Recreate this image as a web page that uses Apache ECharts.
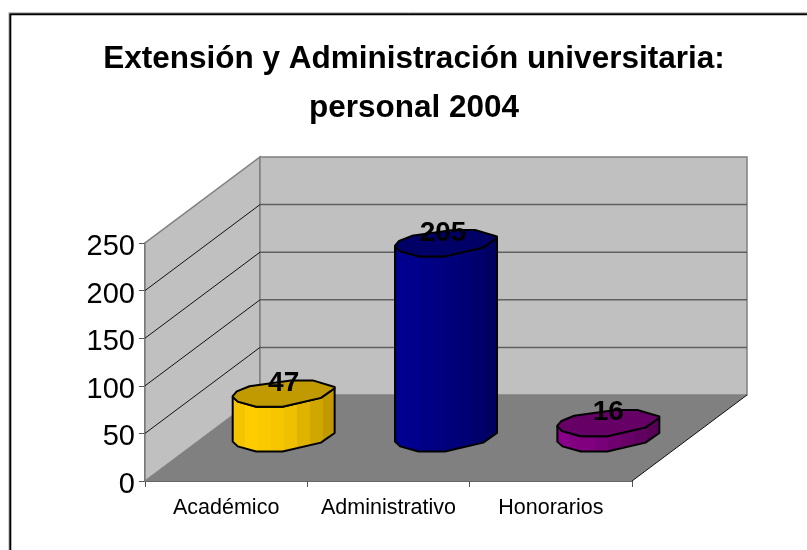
<!DOCTYPE html>
<html><head><meta charset="utf-8">
<style>html,body{margin:0;padding:0;background:#fff}#c{width:807px;height:550px}</style>
<script src="https://cdn.jsdelivr.net/npm/echarts@6/dist/echarts.min.js"></script>
</head><body><div id="c"></div>
<script>
const categories = ['Académico', 'Administrativo', 'Honorarios'];
const values = [47, 205, 16];
const yTicks = [0, 50, 100, 150, 200, 250];
const topColors = ['#c09a00', '#000066', '#660066'];
const sideShades = [
  ['#f5c400','#ffcc00','#fcca00','#f7c600','#efc000','#e0b300','#d0a600','#c09a00'],
  ['#000090','#00008c','#000086','#000080','#00007a','#000074','#00006c','#000060'],
  ['#8a008a','#800080','#800080','#780078','#700070','#680068','#600060','#580058']
];
const labelShift = [0, -3, 0];
const FONT = '"Liberation Sans", Arial, sans-serif';
const DX = 115, DY = -86;   // oblique depth of the 3D box
// faceted outline of the cylinder's cap, in units of its radii
const capBack = [[-1,.2],[-.92,-.13],[-.67,-.5],[.14,-.92],[.57,-.92],[1,-.45]];
const capFront = [[1,-.36],[.73,.33],[-.02,.97],[-.54,.97],[-.9,.6],[-1,.26]];

function grid3D(params, api) {
  const bs = params.coordSys;
  const x0 = bs.x, x1 = bs.x + bs.width;
  const yTop = api.coord([0, 250])[1], yBase = api.coord([0, 0])[1];
  const kids = [];
  kids.push({type:'polygon', shape:{points:[[x0,yBase],[x0+DX,yBase+DY],[x0+DX,yTop+DY],[x0,yTop]]},
    style:{fill:'#c0c0c0', stroke:'#808080', lineWidth:1.5}});
  kids.push({type:'rect', shape:{x:x0+DX,y:yTop+DY,width:x1-x0,height:yBase-yTop},
    style:{fill:'#c0c0c0', stroke:'#808080', lineWidth:1.5}});
  kids.push({type:'polygon', shape:{points:[[x0,yBase],[x0+DX,yBase+DY],[x1+DX,yBase+DY],[x1,yBase]]},
    style:{fill:'#808080', stroke:'none'}});
  kids.push({type:'line', shape:{x1:x1,y1:yBase,x2:x1+DX,y2:yBase+DY}, style:{stroke:'#111',lineWidth:1}});
  yTicks.forEach(t => {
    if (t === 0 || t === 250) return;
    const y = api.coord([0, t])[1];
    kids.push({type:'line', shape:{x1:x0,y1:y,x2:x0+DX,y2:y+DY}, style:{stroke:'#111',lineWidth:1}});
    kids.push({type:'line', shape:{x1:x0+DX,y1:y+DY,x2:x1+DX,y2:y+DY}, style:{stroke:'#606060',lineWidth:1.5}});
  });
  return {type:'group', silent:true, children:kids};
}

function stripes(shades) {
  const stops = [];
  shades.forEach((c, k) => {
    stops.push({offset:k/shades.length,color:c});
    stops.push({offset:(k+1)/shades.length,color:c});
  });
  return {type:'linear',x:0,y:0,x2:1,y2:0,colorStops:stops};
}

function cylinder(params, api) {
  const i = params.dataIndex;
  const base = api.coord([i, 0]), top = api.coord([i, api.value(1)]);
  const band = api.size([1, 0])[0];
  const cx = base[0] + DX * 0.5, off = DY * 0.5;
  const rx = band * 0.314, ry = band * 0.086;
  const pt = (p, y) => [cx + rx * p[0], y + off + ry * p[1]];
  const yT = top[1], yB = base[1];
  const body = capFront.map(p => pt(p, yB)).concat(capFront.slice().reverse().map(p => pt(p, yT)));
  const cap = capBack.concat(capFront).map(p => pt(p, yT));
  return {type:'group', children:[
    {type:'polygon', shape:{points:body}, style:{fill:stripes(sideShades[i]), stroke:'#000', lineWidth:2, lineJoin:'round'}},
    {type:'polygon', shape:{points:cap}, style:{fill:topColors[i], stroke:'#000', lineWidth:2, lineJoin:'round'}},
    {type:'text', style:{text:String(api.value(1)), x:cx+labelShift[i], y:yT+off-10, align:'center', verticalAlign:'middle',
      font:'bold 28px '+FONT, fill:'#000'}, z2:10}
  ]};
}

const chart = echarts.init(document.getElementById('c'), null, {renderer:'canvas'});
chart.setOption({
  animation:false,
  backgroundColor:'#fff',
  title:{text:'Extensión y Administración universitaria:\npersonal 2004', left:409, top:30, textAlign:'center',
    textStyle:{fontFamily:FONT,fontSize:31.5,fontWeight:'bold',color:'#000',lineHeight:49}},
  graphic:[
    {type:'rect', z:-2, silent:true, shape:{x:8.8,y:12.5,width:900,height:700}, style:{fill:'none',stroke:'#c0c0c0',lineWidth:1}},
    {type:'rect', z:-1, silent:true, shape:{x:10.3,y:14.2,width:900,height:700}, style:{fill:'none',stroke:'#000',lineWidth:2}}
  ],
  grid:{left:145,right:175,top:243,bottom:69},
  xAxis:{type:'category',data:categories,boundaryGap:true,
    axisLine:{lineStyle:{color:'#333',width:1.5}},
    axisTick:{show:true,alignWithLabel:false,interval:0,length:6,lineStyle:{color:'#555'}},
    axisLabel:{fontFamily:FONT,fontSize:21.5,color:'#000',margin:16,interval:0,hideOverlap:false},splitLine:{show:false}},
  yAxis:{type:'value',min:0,max:250,interval:50,
    axisLine:{show:true,lineStyle:{color:'#333',width:1.5}},
    axisTick:{show:true,length:6,lineStyle:{color:'#555'}},
    axisLabel:{fontFamily:FONT,fontSize:29,color:'#000',margin:10,verticalAlign:'top',lineHeight:8},splitLine:{show:false}},
  series:[
    {type:'custom',renderItem:grid3D,data:[[0,0]],z:1,silent:true,clip:false,encode:{x:0,y:1}},
    {type:'custom',renderItem:cylinder,data:values.map((v,i)=>[i,v]),z:3,clip:false,encode:{x:0,y:1}}
  ]
});
</script></body></html>
